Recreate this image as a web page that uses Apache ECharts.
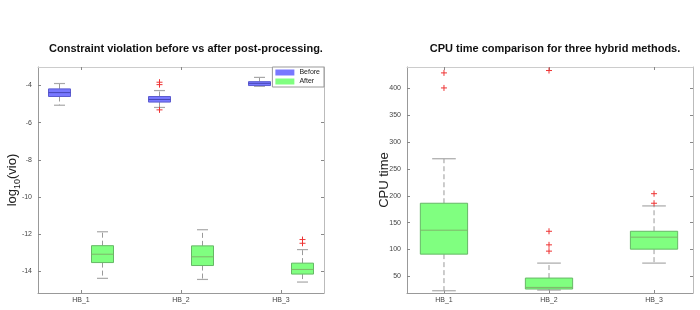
<!DOCTYPE html>
<html>
<head>
<meta charset="utf-8">
<script src="https://cdn.jsdelivr.net/npm/echarts@6/dist/echarts.min.js"></script>
<style>
html,body{margin:0;padding:0;background:#fff;}
#main{width:700px;height:310px;}
</style>
</head>
<body>
<div id="main"></div>
<script>
// categories on both panels
var categories = ['HB_1', 'HB_2', 'HB_3'];

// left panel: [low whisker, q1, median, q3, high whisker] of log10(vio)
var vioBefore = [
  [-5.06, -4.59, -4.38, -4.18, -3.89],
  [-5.18, -4.89, -4.75, -4.59, -4.27],
  [-4.04, -4.00, -3.88, -3.79, -3.56]
];
var vioAfter = [
  [-14.39, -13.54, -13.09, -12.63, -11.88],
  [-14.45, -13.70, -13.23, -12.64, -11.77],
  [-14.59, -14.16, -13.91, -13.57, -12.84]
];
var vioBeforeOut = [[], [-3.82, -3.95, -5.31], []];
var vioAfterOut = [[], [], [-12.30, -12.50]];
var vioTicks = [-14, -12, -10, -8, -6, -4];

// right panel: CPU time
var cpuStats = [
  [23.2, 91.4, 136.0, 186.2, 269.1],
  [24.5, 26.4, 29.4, 46.8, 74.7],
  [74.7, 100.7, 123.0, 134.0, 181.2]
];
var cpuOut = [[401, 429], [97, 108.7, 134, 433.4], [186.2, 204]];
var cpuTicks = [50, 100, 150, 200, 250, 300, 350, 400];

function boxData(stats) {
  return stats.map(function (s, i) { return [i + 1].concat(s); });
}
function outData(outs) {
  var d = [];
  outs.forEach(function (arr, i) {
    arr.forEach(function (v) { d.push([i + 1, v]); });
  });
  return d;
}

function boxRender(offsetFrac, widthFrac, fill, edge, med) {
  return function (params, api) {
    var x = api.value(0);
    var unit = api.size([1, 0])[0];
    var cx = api.coord([x, 0])[0] + offsetFrac * unit;
    var w = widthFrac * unit;
    var yLow = api.coord([x, api.value(1)])[1];
    var yQ1 = api.coord([x, api.value(2)])[1];
    var yMed = api.coord([x, api.value(3)])[1];
    var yQ3 = api.coord([x, api.value(4)])[1];
    var yHigh = api.coord([x, api.value(5)])[1];
    var cap = w / 2;
    var wStyle = { stroke: '#9a9a9a', lineWidth: 1, lineDash: [5, 3] };
    var cStyle = { stroke: '#a8a8a8', lineWidth: 1.2 };
    return {
      type: 'group',
      children: [
        { type: 'line', shape: { x1: cx, y1: yQ3, x2: cx, y2: yHigh }, style: wStyle },
        { type: 'line', shape: { x1: cx, y1: yQ1, x2: cx, y2: yLow }, style: wStyle },
        { type: 'line', shape: { x1: cx - cap / 2, y1: yHigh, x2: cx + cap / 2, y2: yHigh }, style: cStyle },
        { type: 'line', shape: { x1: cx - cap / 2, y1: yLow, x2: cx + cap / 2, y2: yLow }, style: cStyle },
        { type: 'rect', shape: { x: cx - w / 2, y: yQ3, width: w, height: yQ1 - yQ3 },
          style: { fill: fill, stroke: edge, lineWidth: 1 } },
        { type: 'line', shape: { x1: cx - w / 2, y1: yMed, x2: cx + w / 2, y2: yMed },
          style: { stroke: med, lineWidth: 1 } }
      ]
    };
  };
}

function plusRender(offsetFrac) {
  return function (params, api) {
    var x = api.value(0);
    var unit = api.size([1, 0])[0];
    var p = api.coord([x, api.value(1)]);
    var cx = p[0] + offsetFrac * unit, cy = p[1], r = 3;
    var st = { stroke: '#ee3333', lineWidth: 1 };
    return {
      type: 'group',
      children: [
        { type: 'line', shape: { x1: cx - r, y1: cy, x2: cx + r, y2: cy }, style: st },
        { type: 'line', shape: { x1: cx, y1: cy - r, x2: cx, y2: cy + r }, style: st }
      ]
    };
  };
}

var tickStyle = { show: true, inside: true, length: 3, lineStyle: { color: '#888' } };
var labelStyle = { color: '#444', fontSize: 7, fontFamily: 'Liberation Sans' };

function xAxes(gi, min, max) {
  return [
    { type: 'value', gridIndex: gi, min: min, max: max, position: 'bottom',
      splitLine: { show: false },
      axisLine: { lineStyle: { color: '#999' } },
      axisTick: Object.assign({ customValues: [1, 2, 3] }, tickStyle),
      axisLabel: Object.assign({ customValues: [1, 2, 3], margin: 4,
        formatter: function (v) { return categories[Math.round(v) - 1]; } }, labelStyle) },
    { type: 'value', gridIndex: gi, min: min, max: max, position: 'top',
      splitLine: { show: false },
      axisLine: { lineStyle: { color: '#ccc' } },
      axisTick: Object.assign({ customValues: [1, 2, 3] }, tickStyle),
      axisLabel: { show: false } }
  ];
}
function yAxes(gi, min, max, ticks, name, gap) {
  return [
    { type: 'value', gridIndex: gi, min: min, max: max, position: 'left',
      splitLine: { show: false },
      axisLine: { show: true, lineStyle: { color: '#999' } },
      axisTick: Object.assign({ customValues: ticks }, tickStyle),
      axisLabel: Object.assign({ customValues: ticks, margin: 6 }, labelStyle),
      name: name, nameLocation: 'middle', nameRotate: 90, nameGap: gap, nameMoveOverlap: false,
      nameTextStyle: { color: '#222', fontSize: 13, lineHeight: 20, fontFamily: 'Liberation Sans',
        rich: { sub: { fontSize: 9, lineHeight: 9, verticalAlign: 'bottom', color: '#222',
          fontFamily: 'Liberation Sans' } } } },
    { type: 'value', gridIndex: gi, min: min, max: max, position: 'right',
      splitLine: { show: false },
      axisLine: { show: true, lineStyle: { color: '#bbb' } },
      axisTick: Object.assign({ customValues: ticks }, tickStyle),
      axisLabel: { show: false } }
  ];
}

var chart = echarts.init(document.getElementById('main'), null, { renderer: 'canvas' });
var option = {
  animation: false,
  backgroundColor: '#fff',
  title: [
    { text: 'Constraint violation before vs after post-processing.', left: 181, top: 38, textAlign: 'center',
      textStyle: { fontSize: 11, fontWeight: 'bold', color: '#111', fontFamily: 'Liberation Sans' } },
    { text: 'CPU time comparison for three hybrid methods.', left: 550, top: 38, textAlign: 'center',
      textStyle: { fontSize: 11, fontWeight: 'bold', color: '#111', fontFamily: 'Liberation Sans' } }
  ],
  legend: {
    data: ['Before', 'After'], orient: 'vertical', right: 376, top: 67,
    icon: 'rect', itemWidth: 19, itemHeight: 6, itemGap: 2, padding: [2, 4, 2, 3],
    backgroundColor: '#fff', borderColor: '#999', borderWidth: 1, borderRadius: 0,
    textStyle: { fontSize: 7, color: '#222', fontFamily: 'Liberation Sans' }
  },
  grid: [
    { left: 38, top: 67, width: 286, height: 226 },
    { left: 407, top: 67, width: 286, height: 226 }
  ],
  xAxis: xAxes(0, 0.57, 3.43).concat(xAxes(1, 0.648, 3.371)),
  yAxis: yAxes(0, -15.18, -3.0, vioTicks, 'log{sub|10}(vio)', 16)
    .concat(yAxes(1, 19, 440, cpuTicks, 'CPU time', 13)),
  series: [
    { name: 'Before', type: 'custom', xAxisIndex: 0, yAxisIndex: 0,
      itemStyle: { color: '#7878ff', borderColor: '#5c5cd0' },
      renderItem: boxRender(-0.215, 0.22, '#7878ff', '#5c5cd0', '#4747b5'),
      encode: { x: 0, y: [1, 2, 3, 4, 5] }, data: boxData(vioBefore) },
    { name: 'After', type: 'custom', xAxisIndex: 0, yAxisIndex: 0,
      itemStyle: { color: '#80ff80', borderColor: '#66b866' },
      renderItem: boxRender(0.215, 0.22, '#80ff80', '#66b866', '#7fb56a'),
      encode: { x: 0, y: [1, 2, 3, 4, 5] }, data: boxData(vioAfter) },
    { name: 'Before outliers', type: 'custom', xAxisIndex: 0, yAxisIndex: 0,
      renderItem: plusRender(-0.215), encode: { x: 0, y: 1 }, data: outData(vioBeforeOut) },
    { name: 'After outliers', type: 'custom', xAxisIndex: 0, yAxisIndex: 0,
      renderItem: plusRender(0.215), encode: { x: 0, y: 1 }, data: outData(vioAfterOut) },
    { name: 'CPU', type: 'custom', xAxisIndex: 2, yAxisIndex: 2,
      renderItem: boxRender(0, 0.45, '#80ff80', '#66b866', '#7fb56a'),
      encode: { x: 0, y: [1, 2, 3, 4, 5] }, data: boxData(cpuStats) },
    { name: 'CPU outliers', type: 'custom', xAxisIndex: 2, yAxisIndex: 2,
      renderItem: plusRender(0), encode: { x: 0, y: 1 }, data: outData(cpuOut) }
  ]
};
chart.setOption(option);
window.onresize = function () { chart.resize(); };
</script>
</body>
</html>
